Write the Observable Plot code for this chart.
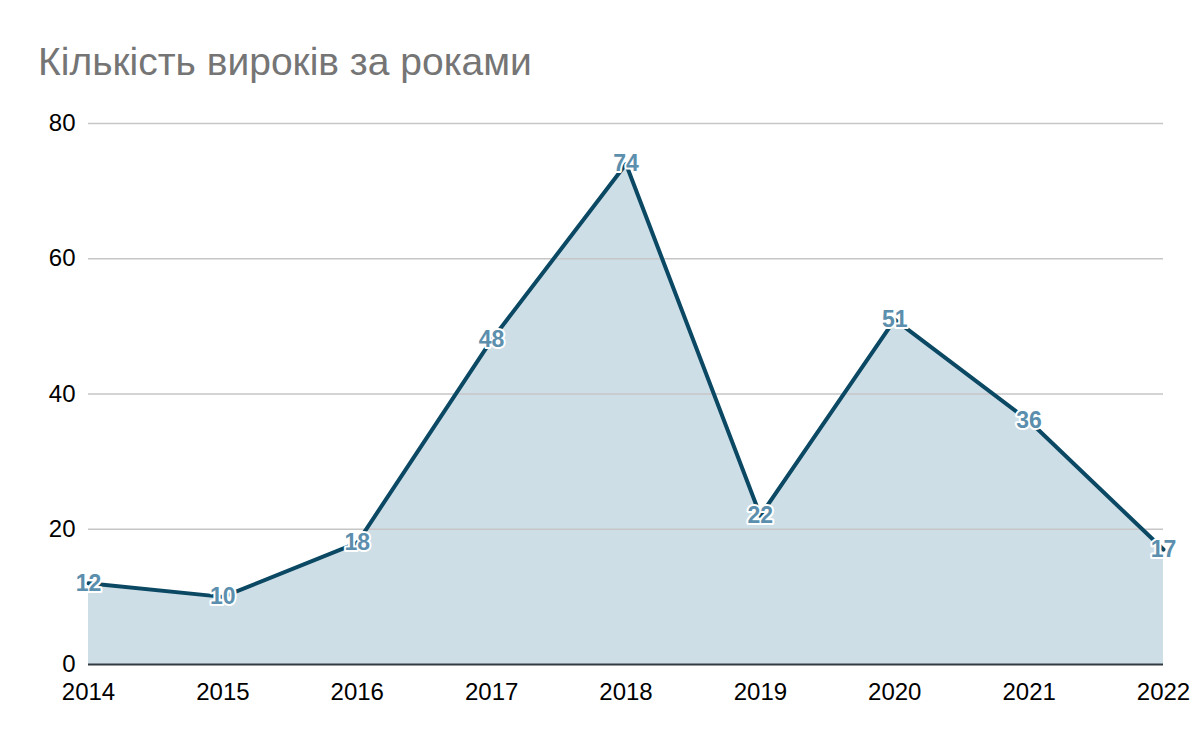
<!DOCTYPE html>
<html>
<head>
<meta charset="utf-8">
<script src="https://cdn.jsdelivr.net/npm/d3@7"></script>
<script src="https://cdn.jsdelivr.net/npm/@observablehq/plot@0.6"></script>
<style>
  html, body { margin: 0; padding: 0; background: #fff; }
  #wrap { position: relative; width: 1200px; height: 742px; font-family: "Liberation Sans", Arial, sans-serif; }
  #title { position: absolute; left: 38px; top: 42px; font-size: 39px; line-height: 39px; color: #757575; white-space: nowrap; }
  #chart { position: absolute; left: 0; top: 100px; }
  #chart text.lbl { font-weight: 700; }
</style>
</head>
<body>
<div id="wrap">
  <div id="title">Кількість вироків за роками</div>
  <div id="chart"></div>
</div>
<script>
const years = [2014, 2015, 2016, 2017, 2018, 2019, 2020, 2021, 2022];
const counts = [12, 10, 18, 48, 74, 22, 51, 36, 17];
const yTicks = [0, 20, 40, 60, 80];

const data = years.map((y, i) => ({year: y, value: counts[i]}));

const chart = Plot.plot({
  width: 1200,
  height: 642,
  marginTop: 23,
  marginBottom: 78,
  marginLeft: 88,
  marginRight: 37,
  style: {fontFamily: "'Liberation Sans', Arial, sans-serif", fontSize: "24px", color: "#000", background: "#fff"},
  x: {domain: [2014, 2022]},
  y: {domain: [0, 80]},
  marks: [
    Plot.areaY(data, {x: "year", y: "value", fill: "#cddee7"}),
    Plot.gridY(yTicks.filter(d => d > 0), {stroke: "#c6c6c6", strokeOpacity: 1, strokeWidth: 1.3}),
    Plot.ruleY([0], {stroke: "#333a40", strokeWidth: 2}),
    Plot.lineY(data, {x: "year", y: "value", stroke: "#0b4863", strokeWidth: 4}),
    Plot.text(data, {x: "year", y: "value", text: d => String(d.value), fill: "#5b8fad", stroke: "#fff", strokeWidth: 4, paintOrder: "stroke", fontWeight: 700, fontSize: 23, className: "lbl"}),
    Plot.axisY(yTicks, {tickSize: 0, tickPadding: 13, fontSize: 24, fill: "#000", label: null}),
    Plot.axisX(years, {tickSize: 0, tickPadding: 18, fontSize: 24, fill: "#000", tickFormat: d => String(d), label: null})
  ]
});
document.getElementById("chart").appendChild(chart);
</script>
</body>
</html>
